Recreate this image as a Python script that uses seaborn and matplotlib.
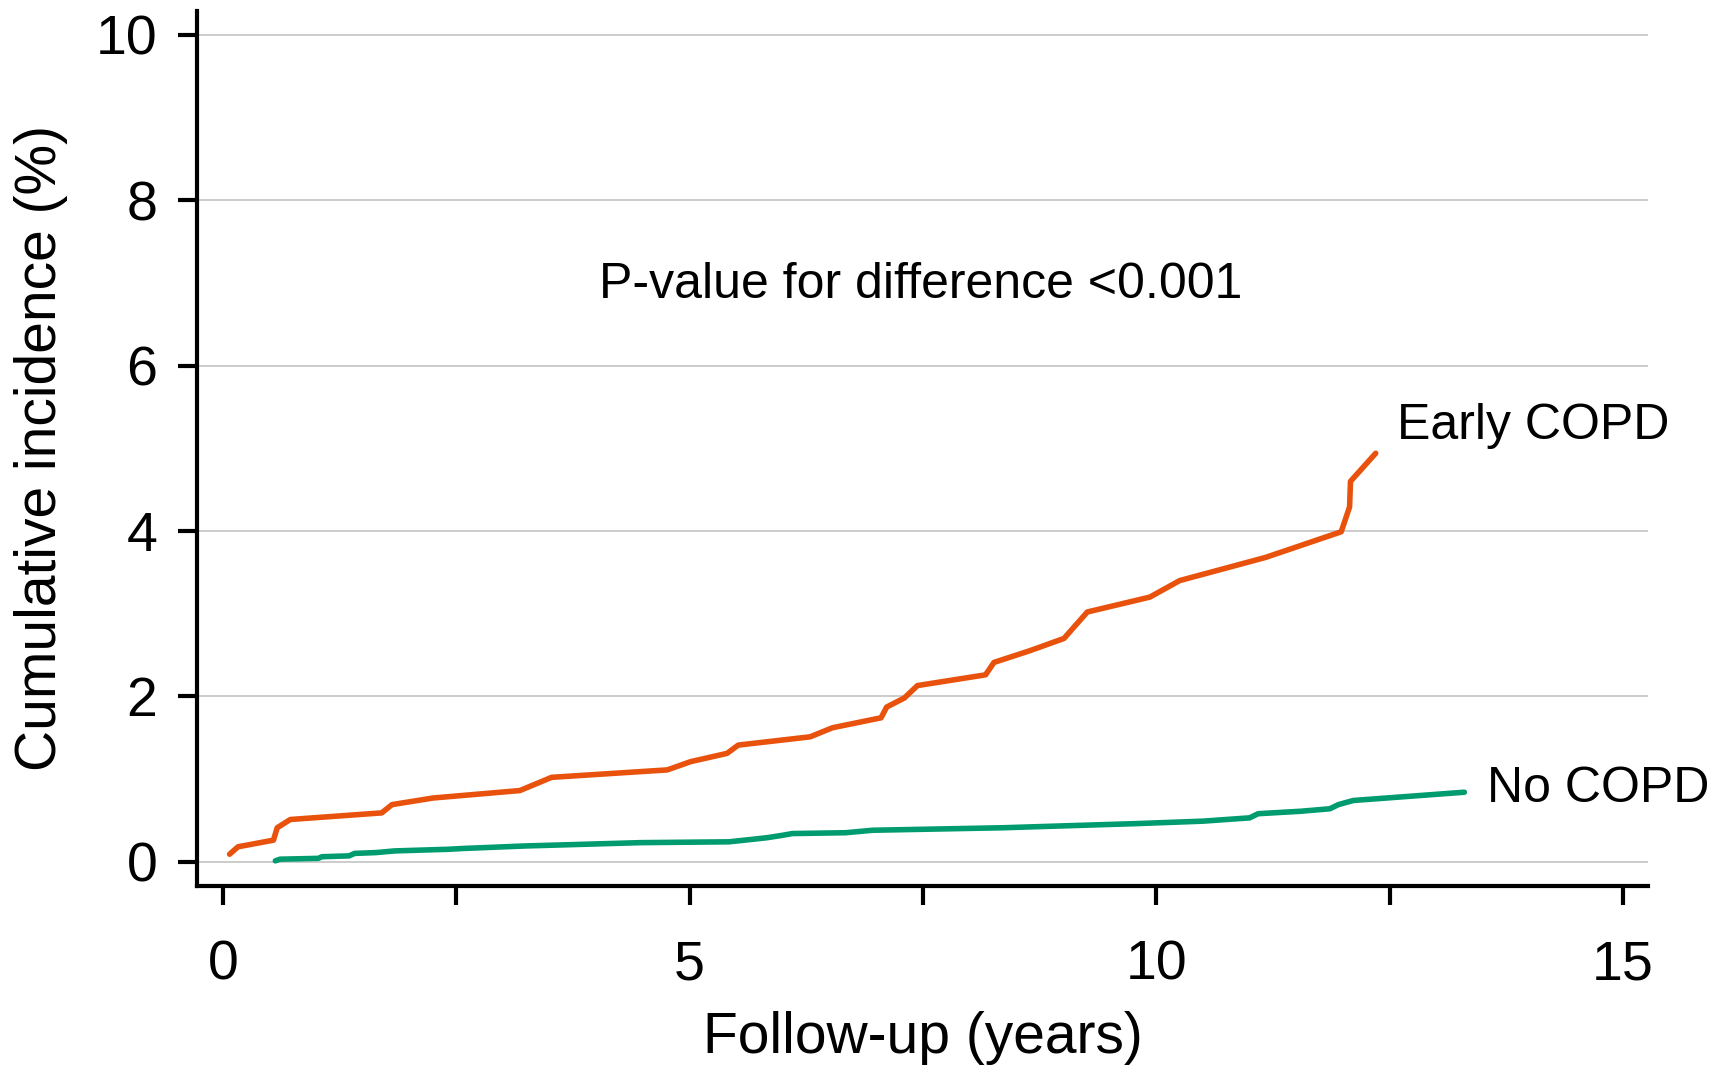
import numpy as np
import pandas as pd
import matplotlib
matplotlib.use("Agg")
import matplotlib.pyplot as plt
import seaborn as sns

# Cumulative incidence curves (years of follow-up, % incidence)
early_years = [0.07, 0.16, 0.54, 0.58, 0.72, 1.70, 1.81, 2.25, 3.18, 3.52, 4.76, 5.01,
               5.40, 5.52, 6.29, 6.53, 7.05, 7.11, 7.30, 7.44, 8.17, 8.26, 8.64, 9.01,
               9.26, 9.93, 10.25, 11.17, 11.98, 12.07, 12.08, 12.35]
early_inc = [0.09, 0.18, 0.26, 0.41, 0.51, 0.59, 0.69, 0.77, 0.86, 1.02, 1.11, 1.21,
             1.31, 1.41, 1.51, 1.62, 1.74, 1.87, 1.98, 2.13, 2.26, 2.41, 2.55, 2.70,
             3.02, 3.20, 3.40, 3.68, 3.99, 4.29, 4.60, 4.94]

none_years = [0.56, 0.61, 1.02, 1.06, 1.35, 1.41, 1.64, 1.84, 2.42, 2.58, 3.24, 3.86,
              4.47, 5.42, 5.67, 5.83, 6.00, 6.10, 6.67, 6.96, 8.35, 9.78, 10.50, 11.00,
              11.09, 11.55, 11.86, 11.95, 12.11, 13.30]
none_inc = [0.01, 0.03, 0.04, 0.06, 0.07, 0.10, 0.11, 0.13, 0.15, 0.16, 0.19, 0.21,
            0.23, 0.24, 0.27, 0.29, 0.32, 0.34, 0.35, 0.38, 0.41, 0.46, 0.49, 0.53,
            0.58, 0.61, 0.64, 0.69, 0.74, 0.84]

groups = ["Early COPD", "No COPD"]
colors = {"Early COPD": "#E8520C", "No COPD": "#009B6E"}

x_ticks = [0, 2.5, 5, 7.5, 10, 12.5, 15]
x_ticklabels = ["0", "", "5", "", "10", "", "15"]
y_ticks = [0, 2, 4, 6, 8, 10]

annotation = "P-value for difference <0.001"

df = pd.concat([
    pd.DataFrame({"years": early_years, "incidence": early_inc, "group": groups[0]}),
    pd.DataFrame({"years": none_years, "incidence": none_inc, "group": groups[1]}),
], ignore_index=True)

sns.set_style("white")
plt.rcParams["font.family"] = ["Liberation Sans", "DejaVu Sans"]
plt.rcParams["text.color"] = "black"
plt.rcParams["axes.labelcolor"] = "black"

fig = plt.figure(figsize=(17.23, 10.74), dpi=100)
ax = fig.add_axes([0.1143, 0.175, 0.9566 - 0.1143, 0.9898 - 0.175])

for y in y_ticks:
    ax.axhline(y, color="#C8C8C8", linewidth=1.3, zorder=0)

sns.lineplot(data=df, x="years", y="incidence", hue="group", palette=colors,
             estimator=None, sort=False, linewidth=4.0, legend=False, ax=ax, zorder=3)

ax.set_xlim(-0.28, 15.27)
ax.set_ylim(-0.295, 10.29)
ax.set_xticks(x_ticks)
ax.set_xticklabels(x_ticklabels)
ax.set_yticks(y_ticks)
ax.set_yticklabels([str(v) for v in y_ticks])

for side in ["top", "right"]:
    ax.spines[side].set_visible(False)
for side in ["left", "bottom"]:
    ax.spines[side].set_linewidth(3.0)
    ax.spines[side].set_color("black")

ax.tick_params(axis="both", which="major", direction="out", length=13.5, width=3.0,
               color="black", labelsize=40, labelcolor="black",
               bottom=True, left=True, top=False, right=False)
ax.tick_params(axis="x", pad=25)
ax.tick_params(axis="y", pad=15)
ax.grid(False)

ax.set_xlabel("Follow-up (years)", fontsize=41, va="center", color="black")
ax.xaxis.set_label_coords(0.5003, -0.1737)
ax.set_ylabel("Cumulative incidence (%)", fontsize=41, va="center", color="black")
ax.yaxis.set_label_coords(-0.1075, 0.5008)

ax.text(7.47, 6.97, annotation, fontsize=36, ha="center", va="center", color="black")
ax.text(12.58, 5.27, "Early COPD", fontsize=36, ha="left", va="center", color="black")
ax.text(13.54, 0.88, "No COPD", fontsize=36, ha="left", va="center", color="black")

fig.savefig("out.png", dpi=100, facecolor="white")
